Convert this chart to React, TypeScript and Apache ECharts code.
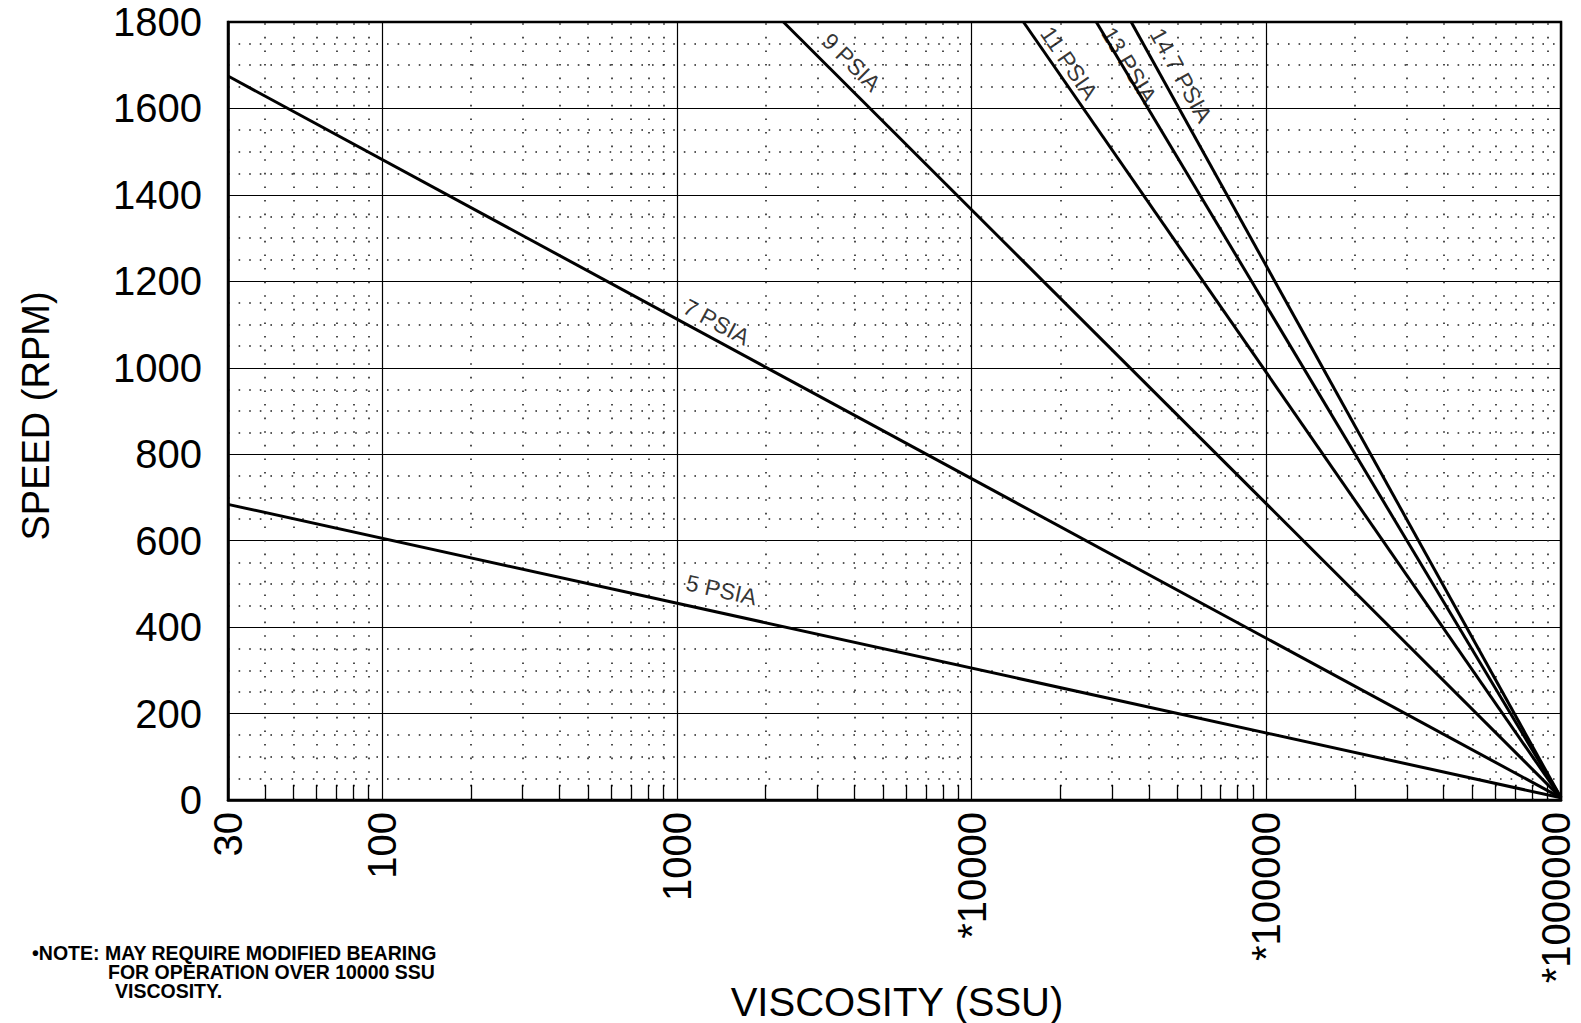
import React, { useEffect, useRef } from "react";
import * as echarts from "echarts";

// ---- data ----
const xTickValues = [30, 100, 1000, 10000, 100000, 1000000];
const xTickLabels = ["30", "100", "1000", "*10000", "*100000", "*1000000"];
const xMinorValues = [
  40, 50, 60, 70, 80, 90,
  200, 300, 400, 500, 600, 700, 800, 900,
  2000, 3000, 4000, 5000, 6000, 7000, 8000, 9000,
  20000, 30000, 40000, 50000, 60000, 70000, 80000, 90000,
  200000, 300000, 400000, 500000, 600000, 700000, 800000, 900000,
];
const yMin = 0;
const yMax = 1800;
const yInterval = 200;

const curveNames = ["5 PSIA", "7 PSIA", "9 PSIA", "11 PSIA", "13 PSIA", "14.7 PSIA"];
const psia5 = [[30, 684], [1000000, 5]];
const psia7 = [[30, 1675], [1000000, 5]];
const psia9 = [[2300, 1800], [1000000, 5]];
const psia11 = [[15000, 1800], [1000000, 5]];
const psia13 = [[26500, 1800], [1000000, 5]];
const psia147 = [[34800, 1800], [1000000, 5]];
const curves = [psia5, psia7, psia9, psia11, psia13, psia147];

// label anchor points (data coordinates) and their slant angles
const labelAnchorX = [1418, 1363, 3913, 21450, 34250, 51400];
const labelAnchorY = [486, 1106, 1707, 1705, 1700, 1677];
const labelAngle = [-12.4, -28.4, -44.8, -55.5, -58.8, -61];

const noteLines = [
  "•NOTE: MAY REQUIRE MODIFIED BEARING",
  "FOR OPERATION OVER 10000 SSU",
  "VISCOSITY.",
];
const xTitle = "VISCOSITY (SSU)";
const yTitle = "SPEED (RPM)";

const FONT = "'Liberation Sans', Arial, Helvetica, sans-serif";
const tickLenRpm = 35;

export default function App() {
  const ref = useRef<HTMLDivElement>(null);
  useEffect(() => {
    if (!ref.current) return;
    const chart = echarts.init(ref.current, undefined, { renderer: "svg" });

    const fmtX = (val: number) => {
      const i = xTickValues.findIndex(
        (t) => Math.abs(Math.log10(t) - Math.log10(val)) < 0.01
      );
      if (i < 0) return "";
      if (i === xTickValues.length - 1) return `{last|${xTickLabels[i]}}`;
      return xTickLabels[i];
    };

    const lineSeries = curves.map((d, i) => ({
      type: "line",
      name: curveNames[i],
      data: d,
      showSymbol: false,
      symbol: "none",
      silent: true,
      lineStyle: { color: "#000", width: 3 },
      z: 5,
      ...(i === 0
        ? {
            markLine: {
              silent: true,
              symbol: ["none", "none"],
              label: { show: false },
              animation: false,
              data: [
                ...xMinorValues.map((v) => ({
                  xAxis: v,
                  lineStyle: { color: "#222", width: 1.6, type: [1.6, 12] },
                })),
                ...xMinorValues.map((v) => [
                  { coord: [v, yMin], lineStyle: { color: "#000", width: 1.3, type: "solid" } },
                  { coord: [v, tickLenRpm] },
                ]),
              ],
            },
          }
        : {}),
    }));

    const labelSeries = {
      type: "scatter",
      symbolSize: 0,
      silent: true,
      z: 6,
      data: curveNames.map((n, i) => ({
        value: [labelAnchorX[i], labelAnchorY[i]],
        name: n,
        label: {
          show: true,
          position: "inside",
          formatter: n,
          rotate: labelAngle[i],
          color: "#000",
          fontFamily: FONT,
          fontSize: 23,
          align: "center",
          verticalAlign: "middle",
        },
      })),
    };

    chart.setOption({
      animation: false,
      backgroundColor: "#fff",
      grid: {
        left: 228,
        right: 20,
        top: 22,
        bottom: 223,
        containLabel: false,
        outerBoundsMode: "none",
        show: true,
        borderColor: "#000",
        borderWidth: 2.5,
        backgroundColor: "transparent",
      },
      xAxis: {
        type: "log",
        logBase: 10,
        min: 30,
        max: 1000000,
        axisLine: { show: true, lineStyle: { color: "#000", width: 2.5 } },
        axisTick: { show: false },
        axisLabel: {
          rotate: 90,
          interval: 0,
          margin: 12,
          color: "#000",
          fontFamily: FONT,
          fontSize: 40,
          lineHeight: 30,
          showMinLabel: true,
          showMaxLabel: true,
          hideOverlap: false,
          formatter: fmtX,
          rich: {
            last: {
              fontFamily: FONT,
              fontSize: 40,
              color: "#000",
              lineHeight: 30,
              padding: [0, 0, 10, 0],
            },
          },
        },
        splitLine: { show: true, lineStyle: { color: "#000", width: 1.2 } },
      },
      yAxis: {
        type: "value",
        min: yMin,
        max: yMax,
        interval: yInterval,
        axisLine: { show: true, lineStyle: { color: "#000", width: 2.5 } },
        axisTick: { show: false },
        axisLabel: {
          margin: 26,
          color: "#000",
          fontFamily: FONT,
          fontSize: 40,
          formatter: (v: number) => String(v),
        },
        splitLine: { show: true, lineStyle: { color: "#000", width: 1.2 } },
        minorTick: { show: false, splitNumber: 4 },
        minorSplitLine: {
          show: true,
          lineStyle: { color: "#222", width: 1.6, type: [1.6, 9] },
        },
      },
      series: [...lineSeries, labelSeries],
      graphic: [
        {
          type: "text",
          x: 36,
          y: 416,
          rotation: Math.PI / 2,
          style: {
            text: yTitle,
            font: `38px ${FONT}`,
            fill: "#000",
            align: "center",
            verticalAlign: "middle",
          },
        },
        {
          type: "text",
          x: 897,
          y: 1002,
          style: {
            text: xTitle,
            font: `40px ${FONT}`,
            fill: "#000",
            align: "center",
            verticalAlign: "middle",
          },
        },
        {
          type: "text",
          x: 32,
          y: 953,
          style: {
            text: noteLines[0],
            font: `bold 19.5px ${FONT}`,
            fill: "#000",
            align: "left",
            verticalAlign: "middle",
          },
        },
        {
          type: "text",
          x: 108,
          y: 972,
          style: {
            text: noteLines[1],
            font: `bold 19.5px ${FONT}`,
            fill: "#000",
            align: "left",
            verticalAlign: "middle",
          },
        },
        {
          type: "text",
          x: 115,
          y: 991,
          style: {
            text: noteLines[2],
            font: `bold 19.5px ${FONT}`,
            fill: "#000",
            align: "left",
            verticalAlign: "middle",
          },
        },
      ],
    });
    return () => chart.dispose();
  }, []);
  return (
    <div
      ref={ref}
      style={{ position: "fixed", left: 0, top: 0, width: 1581, height: 1023, background: "#fff" }}
    />
  );
}
